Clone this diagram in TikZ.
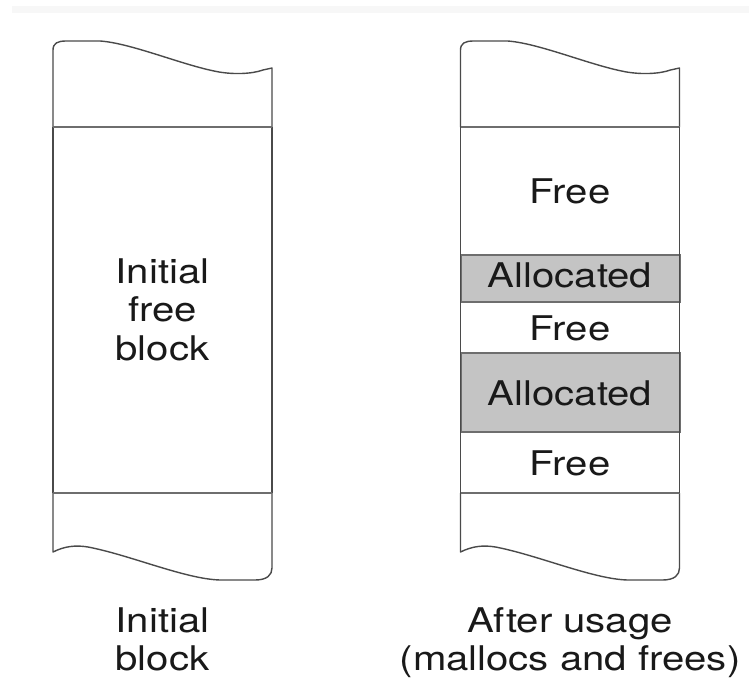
\documentclass[tikz,border=0pt]{standalone}
\usepackage{fontspec}
\setmainfont{TeX Gyre Heros}[FakeStretch=1.18]
\definecolor{edge}{HTML}{4A4A4A}
\definecolor{divider}{HTML}{6E6E6E}
\definecolor{usedfill}{HTML}{C4C4C4}
\begin{document}
\begin{tikzpicture}[x=1pt,y=-1pt,
  outline/.style={draw=edge,line width=1.4pt,line join=round},
  divline/.style={draw=divider,line width=2pt},
  usedblock/.style={fill=usedfill,draw=divider,line width=2pt},
  lbl/.style={font=\fontsize{34}{38}\selectfont,anchor=base,inner sep=0pt,text=black!90}]
\useasboundingbox (0,0) rectangle (749,693);
\fill[black!3] (12,6) rectangle (749,13);

% memory strip, drawn once per column
\foreach \dx in {0,407.5}{
  \begin{scope}[xshift=\dx pt]
    \draw[outline] (53,127) -- (53,50) .. controls (53,43) and (58,41) .. (66,41)
      -- (100,41) .. controls (130,43) and (180,64) .. (214,71)
      .. controls (232,75) and (252,74) .. (263,70) -- (272,68) -- (272,127);
    \draw[outline] (53,493) -- (53,552) .. controls (65,546) and (76,545) .. (88,547)
      .. controls (130,555) and (185,579) .. (220,580) -- (255,580)
      .. controls (267,580) and (272,575) .. (272,568) -- (272,493);
    \draw[outline] (53,127) -- (53,493) (272,127) -- (272,493);
    \draw[divline] (53,127) -- (272,127);
    \draw[divline] (53,493) -- (272,493);
  \end{scope}
}

% allocated regions of the used heap
\draw[usedblock] (460.5,255) rectangle (679.5,302);
\draw[usedblock] (460.5,353) rectangle (679.5,432);
\draw[outline] (460.5,127) -- (460.5,493) (679.5,127) -- (679.5,493);

% block labels (baselines)
\node[lbl] (init1) at (162.5,283) {Initial};
\node[lbl] (init2) at (162.5,321.5) {free};
\node[lbl] (init3) at (162.5,360) {block};
\node[lbl] (f1) at (570,203) {Free};
\node[lbl] (a1) at (570,287) {Allocated};
\node[lbl] (f2) at (570,340) {Free};
\node[lbl] (a2) at (570,405) {Allocated};
\node[lbl] (f3) at (570,475) {Free};

% captions
\node[lbl] (capL1) at (162.5,632) {Initial};
\node[lbl] (capL2) at (162.5,670) {block};
\node[lbl] (capR1) at (570,632) {After usage};
\node[lbl] (capR2) at (570,670) {(mallocs and frees)};
\end{tikzpicture}
\end{document}
